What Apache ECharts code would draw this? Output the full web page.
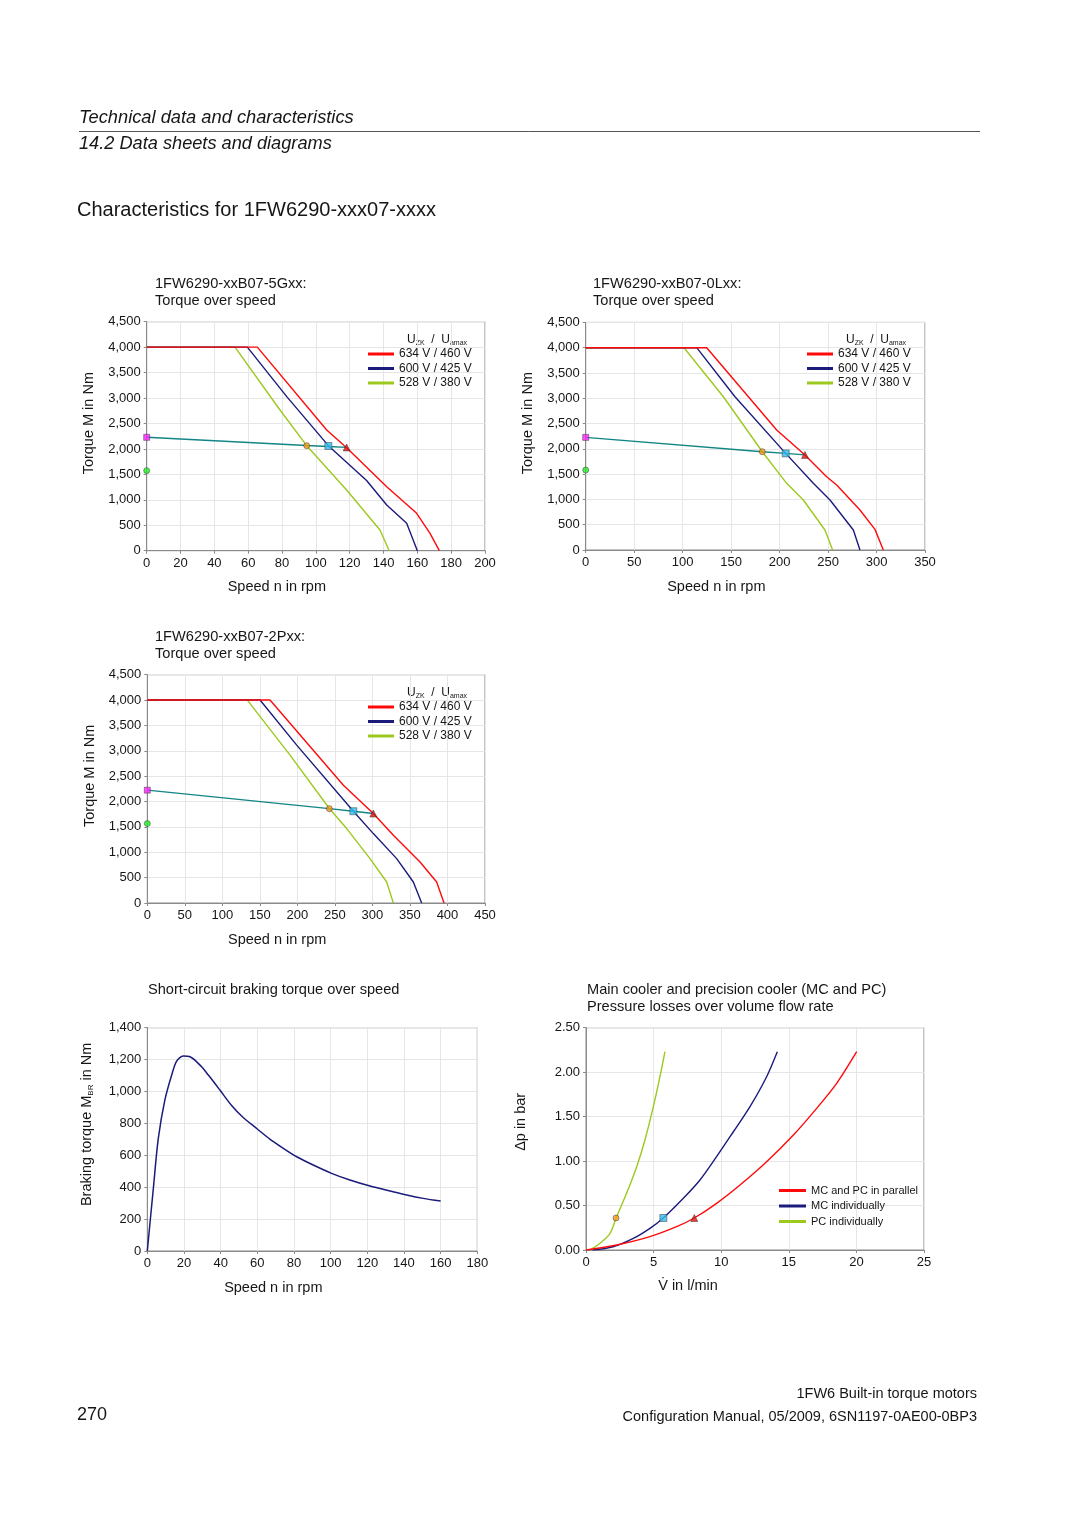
<!DOCTYPE html>
<html><head><meta charset="utf-8">
<script src="https://cdn.jsdelivr.net/npm/echarts@6/dist/echarts.min.js"></script>
<style>html,body{margin:0;padding:0;background:#fff}#c{width:1080px;height:1527px}</style>
</head><body><div id="c"></div>
<script>
// ---------------- DATA ----------------
const voltageNames = ['634 V / 460 V', '600 V / 425 V', '528 V / 380 V'];
const coolerNames = ['MC and PC in parallel', 'MC individually', 'PC individually'];

// Chart 1: 1FW6290-xxB07-5Gxx  [speed rpm, torque Nm]
const c1Red   = [[0,4000],[65.4,4000],[106.4,2372],[118.2,2024],[141.9,1258],[159.6,734],[167.5,341],[173.0,0]];
const c1Blue  = [[0,4000],[59.5,4000],[82.8,3027],[107.4,2064],[130,1380],[141.9,898],[153.7,538],[160.0,0]];
const c1Green = [[0,4000],[52.2,4000],[78.8,2765],[94.6,2064],[118.2,1193],[137.9,407],[143.4,0]];
const c1Teal  = [[0,2228],[94.6,2066],[107.4,2048],[118.2,2030]];
const c1Marks = [[0,2228],[0,1573],[94.6,2064],[107.4,2058],[118.2,2030]];

// Chart 2: 1FW6290-xxB07-0Lxx
const c2Red   = [[0,4000],[124.8,4000],[197.0,2372],[226.2,1877],[248.5,1449],[258.9,1285],[282.9,791],[298.4,408],[307.0,0]];
const c2Blue  = [[0,4000],[114.5,4000],[154.0,3030],[206.3,1910],[234.8,1318],[252.0,988],[276.1,395],[282.9,0]];
const c2Green = [[0,4000],[101.4,4000],[142.0,3030],[182.2,1943],[207.3,1318],[224.5,988],[246.8,395],[254.7,0]];
const c2Teal  = [[0,2227],[182.2,1943],[206.3,1910],[226.2,1880]];
const c2Marks = [[0,2227],[0,1581],[182.2,1943],[206.3,1910],[226.2,1880]];

// Chart 3: 1FW6290-xxB07-2Pxx
const c3Red   = [[0,4000],[163.5,4000],[261.3,2322],[301.2,1763],[327.9,1335],[363.4,809],[385.6,414],[395.4,0]];
const c3Blue  = [[0,4000],[150.2,4000],[199.1,3112],[274.6,1809],[301.2,1368],[332.3,875],[354.5,414],[365.6,0]];
const c3Green = [[0,4000],[133.3,4000],[190.2,2914],[242.6,1862],[265.7,1467],[296.8,875],[319.0,414],[327.9,0]];
const c3Teal  = [[0,2224],[242.6,1860],[274.6,1809],[301.2,1763]];
const c3Marks = [[0,2224],[0,1566],[242.6,1860],[274.6,1809],[301.2,1763]];

// Chart 4: short-circuit braking torque [rpm, Nm]
const brakeCurve = [[0,0],[3.3,393],[6,706],[9.6,947],[13.3,1103],[16,1191],[19.6,1222],[23.3,1218],[29.6,1155],[33.3,1103],[39.6,1009],[46,912],[52,840],[60,765],[67,700],[74.2,644],[81.5,591],[90.5,539],[100.5,487],[110.5,445],[121.5,407],[132.4,376],[141.5,351],[150.5,330],[160,313]];

// Chart 5: pressure loss [l/min, bar]
const coolParallel = [[0,0],[2.27,0.056],[4.73,0.15],[6.7,0.262],[8.01,0.36],[9.66,0.525],[11.39,0.731],[13.36,0.993],[15.34,1.293],[17.06,1.593],[18.54,1.874],[20.02,2.23]];
const coolMC = [[0.5,0],[2.0,0.037],[3.5,0.131],[4.73,0.244],[5.72,0.36],[7.2,0.581],[8.43,0.787],[9.66,1.05],[10.9,1.33],[12.13,1.612],[13.36,1.949],[14.15,2.23]];
const coolPC = [[0.3,0],[1.04,0.075],[1.78,0.187],[2.22,0.356],[3.0,0.637],[3.75,0.937],[4.36,1.237],[4.98,1.612],[5.47,1.949],[5.84,2.23]];
const coolMarks = [[2.22,0.36],[5.72,0.36],[8.01,0.36]];

// ---------------- STYLE ----------------
const FONT = "'Liberation Sans', Arial, Helvetica, sans-serif";
const RED = '#ff0a0a', NAVY = '#1b1b7c', GREEN = '#9cc91e', TEAL = '#128585';
const TXT = '#161616';
const torqueMarkStyles = [
  {symbol:'rect', size:6, color:'#ff22ff'},
  {symbol:'circle', size:6, color:'#22ee22'},
  {symbol:'circle', size:6, color:'#f59a1a'},
  {symbol:'rect', size:7, color:'#33bbee'},
  {symbol:'triangle', size:7, color:'#dd1111'}
];
const coolMarkStyles = [
  {symbol:'circle', size:6, color:'#f59a1a'},
  {symbol:'rect', size:7, color:'#33bbee'},
  {symbol:'triangle', size:7, color:'#dd1111'}
];

const grids = [
  {left:146.7, top:321.7, width:338.3, height:229},
  {left:585.7, top:322.4, width:339.3, height:227.6},
  {left:147.3, top:674.7, width:337.7, height:228.3},
  {left:147.3, top:1027.7, width:330, height:223.3},
  {left:586, top:1027.7, width:338, height:222.3}
].map(g => Object.assign({show:true, borderColor:'#8a8a8a', borderWidth:1, backgroundColor:'#fff', containLabel:false}, g));

const thousands = v => v.toLocaleString('en-US');
function xAx(gi, max, interval, name, gap, shiftLeft) {
  return {type:'value', gridIndex:gi, min:0, max, interval, name, nameLocation:'middle', nameGap:gap,
    nameTextStyle:{fontSize:14.5, color:TXT, fontFamily:FONT, padding:[0, shiftLeft*2, 0, 0]},
    axisLine:{show:true, onZero:false, lineStyle:{color:'#8a8a8a'}},
    axisTick:{show:true, length:3, lineStyle:{color:'#8a8a8a'}},
    axisLabel:{fontSize:13, color:TXT, margin:6, fontFamily:FONT},
    splitLine:{show:true, lineStyle:{color:'#e6e6e6'}}};
}
function yAx(gi, max, interval, name, gap, fmt, shiftUp, rich) {
  return {type:'value', gridIndex:gi, min:0, max, interval, name, nameLocation:'middle', nameGap:gap,
    nameTextStyle:Object.assign({fontSize:14.5, color:TXT, fontFamily:FONT, padding:[0, 0, 0, shiftUp*2]}, rich ? {rich} : {}),
    axisLine:{show:true, onZero:false, lineStyle:{color:'#8a8a8a'}},
    axisTick:{show:true, length:3, lineStyle:{color:'#8a8a8a'}},
    axisLabel:{fontSize:13, color:TXT, margin:6, fontFamily:FONT, formatter:fmt},
    splitLine:{show:true, lineStyle:{color:'#e6e6e6'}}};
}
function lineS(name, data, color, gi, width, smooth) {
  return {type:'line', name, data, xAxisIndex:gi, yAxisIndex:gi, showSymbol:false, symbol:'none',
    smooth: smooth || false, lineStyle:{color, width: width || 1.4}, itemStyle:{color}, animation:false, z:2};
}
function marks(data, styles, gi) {
  return {type:'scatter', xAxisIndex:gi, yAxisIndex:gi, animation:false, z:5,
    data: data.map((p,i) => ({value:p, symbol:styles[i].symbol, symbolSize:styles[i].size,
      itemStyle:{color:styles[i].color, borderColor:'#333', borderWidth:0.6}}))};
}
function torqueSeries(gi, red, blue, green, teal, mk) {
  return [
    lineS(voltageNames[2], green, GREEN, gi),
    lineS(voltageNames[1], blue, NAVY, gi),
    lineS(voltageNames[0], red, RED, gi),
    Object.assign(lineS('teal', teal, TEAL, gi, 1.4), {z:3}),
    marks(mk, torqueMarkStyles, gi)
  ];
}
function voltLegend(left, top) {
  return {orient:'vertical', left, top, data:voltageNames, icon:'rect', itemWidth:26, itemHeight:3,
    itemGap:2.5, selectedMode:false, padding:0,
    textStyle:{fontSize:12, color:TXT, fontFamily:FONT, lineHeight:12}};
}
function text(x, y, t, font, align, rich) {
  return {type:'text', x, y, silent:true, style:Object.assign({text:t, font:font, fill:TXT, align:align||'left', verticalAlign:'middle'}, rich ? {rich} : {})};
}
const subRich = {u:{fontSize:12, fontFamily:FONT, fill:TXT, lineHeight:14}, s:{fontSize:7, fontFamily:FONT, fill:TXT, verticalAlign:'bottom', lineHeight:14, padding:[5,0,0,0]}};
const uzHeader = 'U{s|ZK}  /  U{s|amax}';

const option = {
  animation:false,
  backgroundColor:'#fff',
  textStyle:{fontFamily:FONT},
  grid: grids,
  xAxis: [
    xAx(0, 200, 20, 'Speed n in rpm', 29, 39),
    xAx(1, 350, 50, 'Speed n in rpm', 29, 39),
    xAx(2, 450, 50, 'Speed n in rpm', 29, 39),
    xAx(3, 180, 20, 'Speed n in rpm', 29, 39),
    xAx(4, 25, 5, 'V\u0307 in l/min', 28, 67)
  ],
  yAxis: [
    yAx(0, 4500, 500, 'Torque M in Nm', 50, thousands, 13),
    yAx(1, 4500, 500, 'Torque M in Nm', 50, thousands, 13),
    yAx(2, 4500, 500, 'Torque M in Nm', 50, thousands, 13),
    yAx(3, 1400, 200, 'Braking torque M{s|BR} in Nm', 53, thousands, 15,
        {s:{fontSize:8, fontFamily:FONT, color:TXT, verticalAlign:'bottom', padding:[6,0,0,0]}}),
    yAx(4, 2.5, 0.5, '\u0394p in bar', 58, v => v.toFixed(2), 17)
  ],
  legend: [
    voltLegend(368, 348),
    voltLegend(807, 348),
    voltLegend(368, 701),
    {orient:'vertical', left:779, top:1185, data:coolerNames, icon:'rect', itemWidth:27, itemHeight:3,
     itemGap:4.5, selectedMode:false, padding:0,
     textStyle:{fontSize:11, color:TXT, fontFamily:FONT, lineHeight:11}}
  ],
  series: [].concat(
    torqueSeries(0, c1Red, c1Blue, c1Green, c1Teal, c1Marks),
    torqueSeries(1, c2Red, c2Blue, c2Green, c2Teal, c2Marks),
    torqueSeries(2, c3Red, c3Blue, c3Green, c3Teal, c3Marks),
    [lineS('brake', brakeCurve, NAVY, 3, 1.5, 0.3)],
    [lineS(coolerNames[2], coolPC, GREEN, 4, 1.4, 0.3),
     lineS(coolerNames[1], coolMC, NAVY, 4, 1.4, 0.3),
     lineS(coolerNames[0], coolParallel, RED, 4, 1.4, 0.3),
     marks(coolMarks, coolMarkStyles, 4)]
  ),
  graphic: [
    text(79, 118, 'Technical data and characteristics', 'italic 18.3px ' + FONT),
    {type:'line', silent:true, shape:{x1:79, y1:131.5, x2:980, y2:131.5}, style:{stroke:'#555', lineWidth:1}},
    text(79, 144, '14.2 Data sheets and diagrams', 'italic 18.2px ' + FONT),
    text(77, 210, 'Characteristics for 1FW6290-xxx07-xxxx', '20px ' + FONT),
    text(155, 284, '1FW6290-xxB07-5Gxx:', '14.6px ' + FONT),
    text(155, 301, 'Torque over speed', '14.6px ' + FONT),
    text(593, 284, '1FW6290-xxB07-0Lxx:', '14.6px ' + FONT),
    text(593, 301, 'Torque over speed', '14.6px ' + FONT),
    text(155, 637, '1FW6290-xxB07-2Pxx:', '14.6px ' + FONT),
    text(155, 654, 'Torque over speed', '14.6px ' + FONT),
    text(148, 990, 'Short-circuit braking torque over speed', '14.6px ' + FONT),
    text(587, 990, 'Main cooler and precision cooler (MC and PC)', '14.6px ' + FONT),
    text(587, 1007, 'Pressure losses over volume flow rate', '14.6px ' + FONT),
    text(407, 340, uzHeader, '12px ' + FONT, 'left', subRich),
    text(846, 340, uzHeader, '12px ' + FONT, 'left', subRich),
    text(407, 693, uzHeader, '12px ' + FONT, 'left', subRich),
    text(77, 1415, '270', '18px ' + FONT),
    text(977, 1394, '1FW6 Built-in torque motors', '14.5px ' + FONT, 'right'),
    text(977, 1417, 'Configuration Manual, 05/2009, 6SN1197-0AE00-0BP3', '14.5px ' + FONT, 'right')
  ]
};
const chart = echarts.init(document.getElementById('c'), null, {renderer:'canvas'});
chart.setOption(option);
</script>
</body></html>
